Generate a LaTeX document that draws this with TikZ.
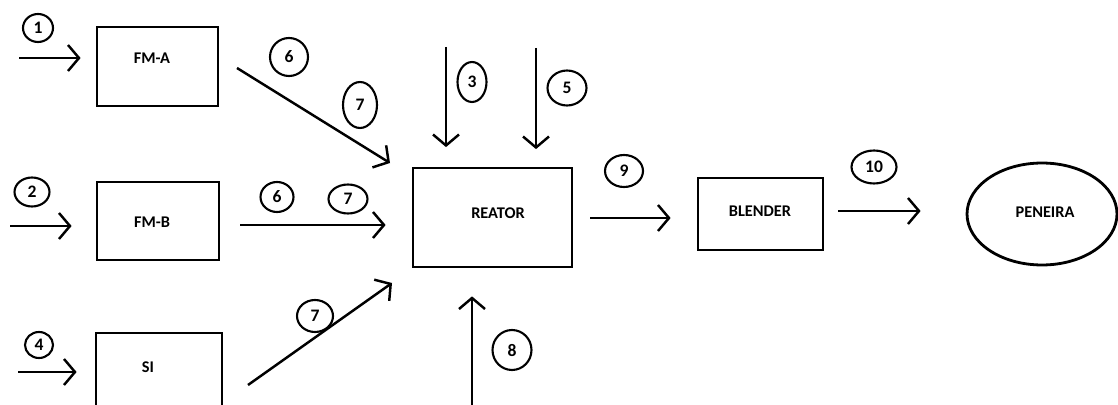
\documentclass[tikz,border=0pt]{standalone}
\usepackage{fontspec}
\setmainfont{Carlito}
\usepackage{tikz}
\usetikzlibrary{shapes.geometric, arrows.meta}

\begin{document}
\begin{tikzpicture}[x=0.02cm, y=-0.02cm,
  unit/.style={draw, line width=1.6pt, inner sep=0pt},
  tag/.style={draw, ellipse, line width=1.2pt, inner sep=0pt, font=\bfseries\fontsize{10}{11}\selectfont},
  txt/.style={font=\bfseries\fontsize{9.3}{10}\selectfont},
  flow/.style={line width=1.4pt, -{Straight Barb[length=0.22cm, width=0.52cm]}}]
\useasboundingbox (0,0) rectangle (1118,405);
\clip (0,0) rectangle (1118,405);
% units
\node[unit, minimum width=2.42cm, minimum height=1.58cm] (fma) at (157.5,66.5) {};
\node[unit, minimum width=2.44cm, minimum height=1.56cm] (fmb) at (158,221) {};
\node[unit, minimum width=2.52cm, minimum height=1.94cm] (si) at (159,381.5) {};
\node[unit, minimum width=3.18cm, minimum height=1.98cm] (rea) at (492.5,217.5) {};
\node[unit, minimum width=2.5cm, minimum height=1.44cm] (ble) at (760.5,214) {};
\node[unit, ellipse, minimum width=3.0cm, minimum height=2.04cm] (pen) at (1042,214) {};
\node[txt] (fmatxt) at (152,58) {FM-A};
\node[txt] (fmbtxt) at (152,222) {FM-B};
\node[txt] (sitxt) at (148,367) {SI};
\node[txt] (reatxt) at (498,213) {REATOR};
\node[txt] (bletxt) at (760,211) {BLENDER};
\node[txt] (pentxt) at (1045,212) {PENEIRA};
% streams
\coordinate (in1) at (19,58);
\coordinate (in2) at (10,226);
\coordinate (in4) at (18,372);
\coordinate (in3) at (446,47);
\coordinate (in5) at (536,48);
\coordinate (in8) at (472,405);
\coordinate (outa) at (237,68);
\coordinate (ina) at (390,163);
\coordinate (outb) at (240,225);
\coordinate (outs) at (248,385);
\coordinate (ins) at (392,283);
\coordinate (out9) at (590,218);
\coordinate (out10) at (838,211);
\draw[flow, shorten >=0.3cm] (in1) -- (in1 -| fma.west);
\draw[flow, shorten >=0.48cm] (in2) -- (in2 -| fmb.west);
\draw[flow, shorten >=0.36cm] (in4) -- (in4 -| si.west);
\draw[flow] (outa) -- (ina);
\draw[flow, shorten >=0.52cm] (outb) -- (outb -| rea.west);
\draw[flow] (outs) -- (ins);
\draw[flow, shorten >=0.39cm] (in3) -- (in3 |- rea.north);
\draw[flow, shorten >=0.35cm] (in5) -- (in5 |- rea.north);
\draw[flow, shorten >=0.56cm] (in8) -- (in8 |- rea.south);
\draw[flow, shorten >=0.52cm] (out9) -- (out9 -| ble.west);
\draw[flow, shorten >=0.9cm] (out10) -- (out10 -| pen.west);
% tags
\node[tag, minimum width=0.6cm, minimum height=0.56cm] (c1) at (38,28) {1};
\node[tag, minimum width=0.7cm, minimum height=0.58cm] (c2) at (32,192) {2};
\node[tag, minimum width=0.56cm, minimum height=0.52cm] (c4) at (39,345) {4};
\node[tag, minimum width=0.76cm, minimum height=0.76cm] (c6a) at (289,57) {6};
\node[tag, minimum width=0.68cm, minimum height=0.92cm] (c7a) at (360,105) {7};
\node[tag, minimum width=0.66cm, minimum height=0.6cm] (c6b) at (277,197) {6};
\node[tag, minimum width=0.78cm, minimum height=0.58cm] (c7b) at (348,199) {7};
\node[tag, minimum width=0.72cm, minimum height=0.64cm] (c7c) at (315,316) {7};
\node[tag, minimum width=0.58cm, minimum height=0.8cm] (c3) at (472,82) {3};
\node[tag, minimum width=0.78cm, minimum height=0.7cm] (c5) at (567,88) {5};
\node[tag, minimum width=0.76cm, minimum height=0.64cm] (c9) at (624,171) {9};
\node[tag, minimum width=0.9cm, minimum height=0.66cm] (c10) at (874,167) {10};
\node[tag, minimum width=0.78cm, minimum height=0.8cm] (c8) at (512,350) {8};
\end{tikzpicture}
\end{document}
